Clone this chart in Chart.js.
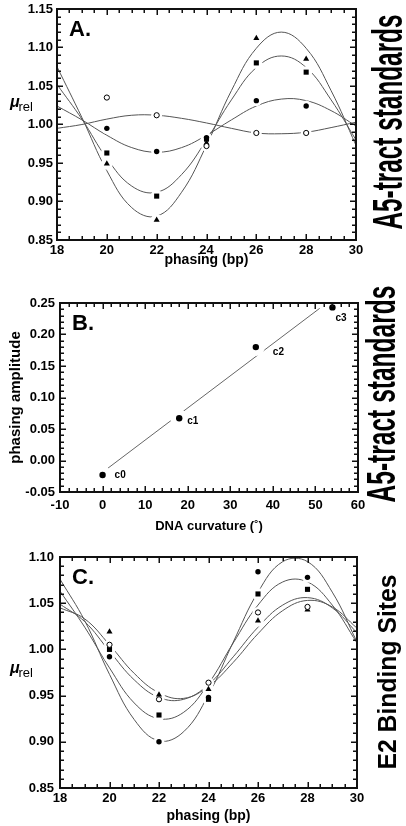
<!DOCTYPE html>
<html>
<head>
<meta charset="utf-8">
<script src="https://cdn.jsdelivr.net/npm/chart.js@4.4.1/dist/chart.umd.min.js"></script>
<style>
  body { margin: 0; background: #fff; }
  canvas { position: absolute; left: 0; }
</style>
</head>
<body>
<canvas id="chartA" width="406" height="272" style="top:0px"></canvas>
<canvas id="chartB" width="406" height="276" style="top:272px"></canvas>
<canvas id="chartC" width="406" height="278" style="top:548px"></canvas>
<script>
// ---------- panel A : A5-tract standards ----------
var phasing = [20, 22, 24, 26, 28];
var aOpen   = [1.035, 1.012, 0.972, 0.989, 0.989];
var aFilled = [0.995, 0.965, 0.983, 1.031, 1.024];
var aSquare = [0.963, 0.907, 0.981, 1.080, 1.068];
var aTri    = [0.949, 0.876, 0.976, 1.112, 1.085];

// fitted curves, every 1 bp
var fitPhasing = [18, 19, 20, 21, 22, 23, 24, 25, 26, 27, 28, 29, 30];
var aOpenFit   = [0.995, 1.000, 1.007, 1.012, 1.012, 1.008, 1.002, 0.995, 0.989, 0.988, 0.990, 0.996, 1.003];
var aFilledFit = [1.024, 1.006, 0.986, 0.970, 0.964, 0.970, 0.986, 1.006, 1.024, 1.033, 1.031, 1.018, 0.998];
var aSquareFit = [1.052, 1.007, 0.956, 0.920, 0.912, 0.935, 0.980, 1.032, 1.074, 1.089, 1.074, 1.032, 0.980];
var aTriFit    = [1.075, 1.009, 0.940, 0.892, 0.881, 0.912, 0.973, 1.044, 1.099, 1.120, 1.099, 1.044, 0.973];

// ---------- panel B : phasing amplitude vs curvature ----------
var curvature  = [0, 18, 36, 54];
var amplitude  = [-0.023, 0.067, 0.180, 0.243];
var curveNames = ['c0', 'c1', 'c2', 'c3'];
var fitCurvature = [1, 51];
var fitAmplitude = [-0.0135, 0.2415];

// ---------- panel C : E2 binding sites ----------
var cOpen   = [1.005, 0.946, 0.964, 1.040, 1.046];
var cFilled = [0.992, 0.900, 0.948, 1.084, 1.078];
var cSquare = [1.000, 0.929, 0.946, 1.060, 1.065];
var cTri    = [1.019, 0.951, 0.957, 1.031, 1.043];
var cOpenFit   = [1.049, 1.030, 0.998, 0.967, 0.948, 0.946, 0.962, 0.992, 1.024, 1.048, 1.056, 1.045, 1.018];
var cFilledFit = [1.076, 1.031, 0.973, 0.924, 0.901, 0.911, 0.951, 1.008, 1.062, 1.095, 1.095, 1.062, 1.008];
var cSquareFit = [1.063, 1.024, 0.980, 0.942, 0.925, 0.932, 0.963, 1.007, 1.048, 1.073, 1.073, 1.048, 1.007];
var cTriFit    = [1.045, 1.033, 1.005, 0.974, 0.953, 0.947, 0.960, 0.986, 1.017, 1.042, 1.053, 1.046, 1.023];


var tickFont = { family: 'Liberation Sans', weight: 'bold', size: 13 };
var frameBorder = { display: true, color: '#111', width: 2 };

var markers = {
  open:   { pointStyle: 'circle',   pointRadius: 2.6, pointBackgroundColor: '#fff', pointBorderColor: '#000', pointBorderWidth: 1 },
  filled: { pointStyle: 'circle',   pointRadius: 2.7, pointBackgroundColor: '#000', pointBorderColor: '#000', pointBorderWidth: 0 },
  square: { pointStyle: 'rect',     pointRadius: 3.6, pointBackgroundColor: '#000', pointBorderColor: '#000', pointBorderWidth: 0 },
  tri:    { pointStyle: 'triangle', pointRadius: 3.5, pointBackgroundColor: '#000', pointBorderColor: '#000', pointBorderWidth: 0 }
};

function pts(xs, ys) {
  return xs.map(function(x, i) { return { x: x, y: ys[i] }; });
}

// fit line (drawn first), white halo that breaks the lines, then the marker
function series(xs, ys, fitXs, fitYs, marker, halo) {
  var m = Object.assign({ data: pts(xs, ys), showLine: false, order: 1 }, marker);
  return [
    { data: pts(fitXs, fitYs), showLine: true, pointRadius: 0, borderColor: '#555', borderWidth: 1,
      tension: 0.4, fill: false, order: 3 },
    { data: pts(xs, ys), showLine: false, pointRadius: halo, pointBackgroundColor: '#fff',
      pointBorderWidth: 0, order: 2 },
    m
  ];
}

function axis(min, max, step, decimals, pad, size, title, titleSize, titlePad) {
  return {
    type: 'linear', min: min, max: max,
    grid: { display: false, drawTicks: false }, border: frameBorder,
    ticks: { stepSize: step, autoSkip: false, maxRotation: 0, padding: pad, color: '#000', font: tickFont,
             callback: function(v) { return (Math.abs(v) < 1e-9 ? 0 : v).toFixed(decimals); } },
    title: title ? { display: true, text: title, color: '#000',
                     font: { family: 'Liberation Sans', weight: 'bold', size: titleSize }, padding: titlePad }
                 : { display: false },
    afterFit: function(s) {
      if (s.isHorizontal()) { s.height = size; s.paddingLeft = 0; s.paddingRight = 0; }
      else { s.width = size; s.paddingTop = 0; s.paddingBottom = 0; }
    }
  };
}

// empty top / right axes, only there to close the frame
function mirror(min, max, pos) {
  return {
    type: 'linear', min: min, max: max, position: pos, display: true,
    grid: { display: false, drawTicks: false }, border: frameBorder,
    ticks: { display: false },
    afterFit: function(s) {
      if (s.isHorizontal()) { s.height = 0; s.paddingLeft = 0; s.paddingRight = 0; }
      else { s.width = 0; s.paddingTop = 0; s.paddingBottom = 0; }
    }
  };
}

// frame, inward major/minor ticks, panel letter, mu_rel and side titles
var panelDecor = {
  id: 'panelDecor',
  afterDraw: function(chart, args, o) {
    var ctx = chart.ctx, a = chart.chartArea;
    var xs = chart.scales.x, ys = chart.scales.y;
    var L = Math.round(a.left), R = Math.round(a.right), T = Math.round(a.top), B = Math.round(a.bottom);
    ctx.save();
    ctx.fillStyle = '#111';
    ctx.fillRect(L - 1, T - 1, R - L + 2, 2);
    ctx.fillRect(L - 1, B - 1, R - L + 2, 2);
    ctx.fillRect(L - 1, T - 1, 2, B - T + 2);
    ctx.fillRect(R - 1, T - 1, 2, B - T + 2);
    var n, per, i, p, len;
    n = Math.round((xs.max - xs.min) / o.xMinor);
    per = Math.round(xs.options.ticks.stepSize / o.xMinor);
    for (i = 0; i <= n; i++) {
      p = Math.round(xs.getPixelForValue(xs.min + i * o.xMinor));
      len = (i % per === 0) ? 6 : 4;
      ctx.fillRect(p - 0.5, B - len, 1.5, len);
      ctx.fillRect(p - 0.5, T, 1.5, len);
    }
    n = Math.round((ys.max - ys.min) / o.yMinor);
    per = Math.round(ys.options.ticks.stepSize / o.yMinor);
    for (i = 0; i <= n; i++) {
      p = Math.round(ys.getPixelForValue(ys.min + i * o.yMinor));
      len = (i % per === 0) ? 6 : 4;
      ctx.fillRect(L, p - 0.5, len, 1.5);
      ctx.fillRect(R - len, p - 0.5, len, 1.5);
    }

    ctx.fillStyle = '#000';
    ctx.textAlign = 'left';
    ctx.textBaseline = 'alphabetic';
    ctx.font = 'bold 22px "Liberation Sans"';
    ctx.fillText(o.letter, a.left + 12, a.top + 27);

    if (o.mu) {
      ctx.font = 'bold italic 16px "Liberation Sans"';
      ctx.fillText('\u03BC', o.mu.x, o.mu.y);
      ctx.font = '13px "Liberation Sans"';
      ctx.fillText('rel', o.mu.x + 8.5, o.mu.y + 4);
    }

    if (o.labels) {
      ctx.font = 'bold 10px "Liberation Sans"';
      ctx.textBaseline = 'middle';
      o.labels.text.forEach(function(t, k) {
        ctx.fillText(t, xs.getPixelForValue(o.labels.xv[k]) + o.labels.dx[k],
                        ys.getPixelForValue(o.labels.yv[k]) + o.labels.dy[k]);
      });
    }

    var s = o.side;
    ctx.font = 'bold ' + s.size + 'px "Liberation Sans"';
    ctx.textAlign = 'center';
    ctx.textBaseline = 'alphabetic';
    var w = ctx.measureText(s.text).width;
    ctx.translate(s.x, s.y);
    ctx.rotate(-Math.PI / 2);
    ctx.scale(s.length / w, s.across);
    ctx.fillText(s.text, 0, 0);
    ctx.restore();
  }
};

function baseOptions(padding, scales, decor) {
  return {
    responsive: false, animation: false, devicePixelRatio: 1, events: [],
    layout: { padding: padding },
    scales: scales,
    plugins: { legend: { display: false }, tooltip: { enabled: false }, panelDecor: decor }
  };
}

// ---- chart A ----
new Chart(document.getElementById('chartA'), {
  type: 'scatter',
  plugins: [panelDecor],
  data: {
    datasets: [].concat(
      series(phasing, aOpen, fitPhasing, aOpenFit, markers.open, 5.5),
      series(phasing, aFilled, fitPhasing, aFilledFit, markers.filled, 5.5),
      series(phasing, aSquare, fitPhasing, aSquareFit, markers.square, 6),
      series(phasing, aTri, fitPhasing, aTriFit, markers.tri, 6)
    )
  },
  options: baseOptions({ left: 0, right: 50, top: 9, bottom: 0 }, {
    x: axis(18, 30, 2, 0, 3, 32, 'phasing (bp)', 14, { top: 0, bottom: 3 }),
    y: axis(0.85, 1.15, 0.05, 2, 4, 57),
    x2: mirror(18, 30, 'top'),
    y2: mirror(0.85, 1.15, 'right')
  }, {
    xMinor: 0.5, yMinor: 0.01, letter: 'A.',
    mu: { x: 10, y: 107 },
    side: { text: 'A5-tract standards', size: 28, x: 402, y: 122, length: 215, across: 1.55 }
  })
});

// ---- chart B ----
new Chart(document.getElementById('chartB'), {
  type: 'scatter',
  plugins: [panelDecor],
  data: {
    datasets: [
      { data: pts(fitCurvature, fitAmplitude), showLine: true, pointRadius: 0, borderColor: '#666',
        borderWidth: 1, order: 3 },
      { data: pts(curvature, amplitude), showLine: false, pointRadius: 9, pointBackgroundColor: '#fff',
        pointBorderWidth: 0, order: 2 },
      Object.assign({ data: pts(curvature, amplitude), showLine: false, order: 1 }, markers.filled, { pointRadius: 3.2 })
    ]
  },
  options: baseOptions({ left: 0, right: 48, top: 31, bottom: 0 }, {
    x: axis(-10, 60, 10, 0, 6, 56, 'DNA curvature (\u02DA)', 13, { top: 0, bottom: 14 }),
    y: axis(-0.05, 0.25, 0.05, 2, 5, 60, 'phasing amplitude', 15, { top: 7, bottom: 0 }),
    x2: mirror(-10, 60, 'top'),
    y2: mirror(-0.05, 0.25, 'right')
  }, {
    xMinor: 2, yMinor: 0.01, letter: 'B.',
    labels: { text: curveNames, xv: curvature, yv: amplitude, dx: [12, 8, 17, 3], dy: [0, 3, 5, 11] },
    side: { text: 'A5-tract standards', size: 28, x: 395, y: 122, length: 217, across: 1.42 }
  })
});

// ---- chart C ----
new Chart(document.getElementById('chartC'), {
  type: 'scatter',
  plugins: [panelDecor],
  data: {
    datasets: [].concat(
      series(phasing, cOpen, fitPhasing, cOpenFit, markers.open, 5.5),
      series(phasing, cFilled, fitPhasing, cFilledFit, markers.filled, 5.5),
      series(phasing, cSquare, fitPhasing, cSquareFit, markers.square, 6),
      series(phasing, cTri, fitPhasing, cTriFit, markers.tri, 6)
    )
  },
  options: baseOptions({ left: 0, right: 49, top: 9, bottom: 0 }, {
    x: axis(18, 30, 2, 0, 3, 38, 'phasing (bp)', 14, { top: 0, bottom: 1 }),
    y: axis(0.85, 1.10, 0.05, 2, 6, 60),
    x2: mirror(18, 30, 'top'),
    y2: mirror(0.85, 1.10, 'right')
  }, {
    xMinor: 0.5, yMinor: 0.01, letter: 'C.',
    mu: { x: 10, y: 125 },
    side: { text: 'E2 Binding Sites', size: 25, x: 396, y: 124, length: 195, across: 1.0 }
  })
});
</script>
</body>
</html>
